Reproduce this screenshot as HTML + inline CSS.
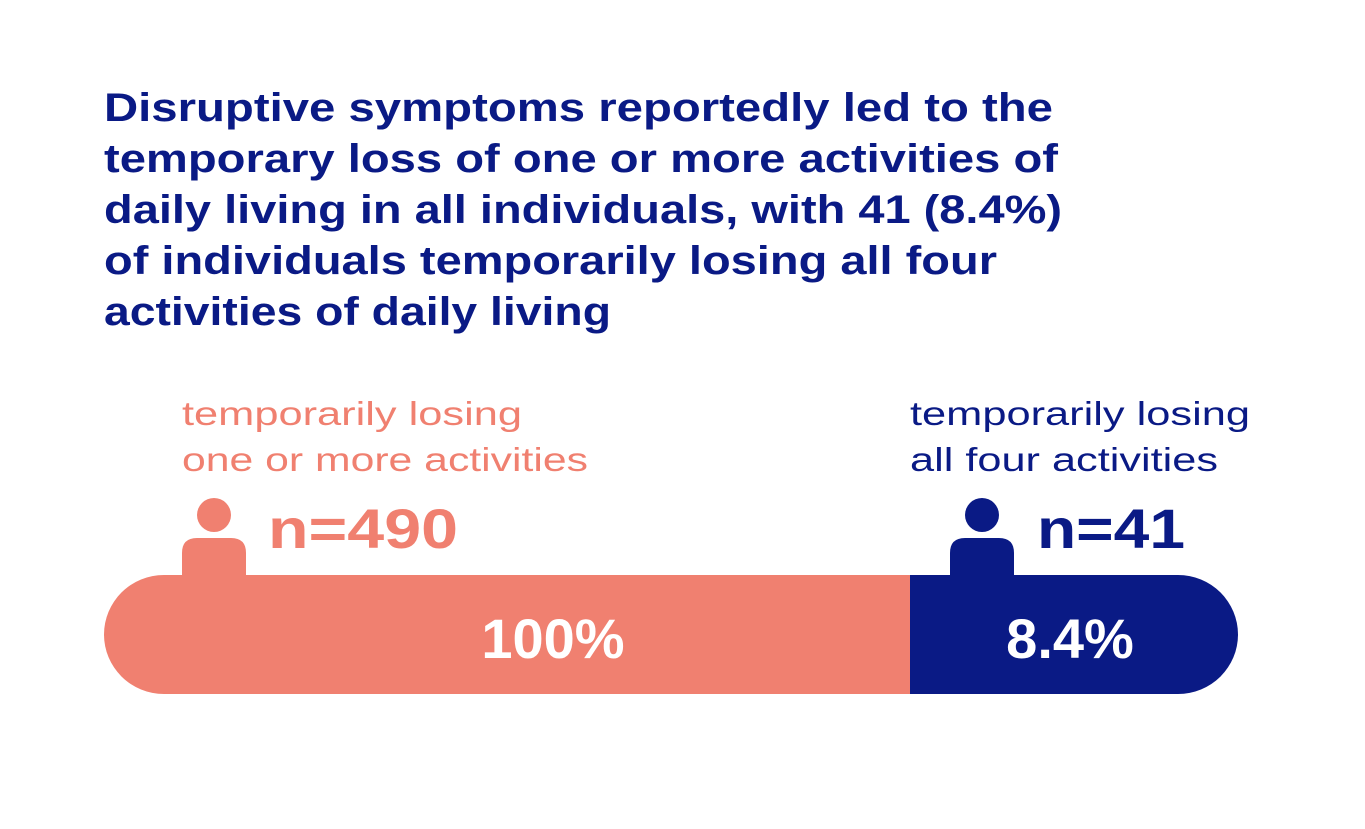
<!DOCTYPE html>
<html><head><meta charset="utf-8"><style>
html,body{margin:0;padding:0;background:#fff;width:1365px;height:829px;overflow:hidden}
svg{display:block;font-family:"Liberation Sans",sans-serif}
</style></head><body>
<svg id="chart" width="1365" height="829" viewBox="0 0 1365 829">
<g fill="#0a1a85" font-weight="bold" font-size="40">
<text x="104" y="121" textLength="949" lengthAdjust="spacingAndGlyphs">Disruptive symptoms reportedly led to the</text>
<text x="104" y="172" textLength="954" lengthAdjust="spacingAndGlyphs">temporary loss of one or more activities of</text>
<text x="104" y="223" textLength="958" lengthAdjust="spacingAndGlyphs">daily living in all individuals, with 41 (8.4%)</text>
<text x="104" y="274" textLength="893" lengthAdjust="spacingAndGlyphs">of individuals temporarily losing all four</text>
<text x="104" y="325" textLength="507" lengthAdjust="spacingAndGlyphs">activities of daily living</text>
</g>
<g id="bars"></g>
</svg>
<script>
const categories = ["temporarily losing|one or more activities", "temporarily losing|all four activities"];
const counts = [490, 41];
const percents = ["100%", "8.4%"];
const colors = ["#f08070", "#0a1a85"];
const NS = "http://www.w3.org/2000/svg";
const g = document.getElementById("bars");
function mk(tag, attrs, parent){const e=document.createElementNS(NS,tag);for(const k in attrs)e.setAttribute(k,attrs[k]);(parent||g).appendChild(e);return e;}
// layout
const segX = [104, 910], segEnd = [910, 1238], y0 = 575, y1 = 694, r = 60;
// salmon segment (rounded left)
const s0 = mk("path",{d:`M${segX[0]+r},${y0} H${segEnd[0]} V${y1} H${segX[0]+r} A${r},${(y1-y0)/2} 0 0 1 ${segX[0]+r},${y0} Z`,fill:colors[0]});


const s1 = mk("path",{d:`M${segX[1]},${y0} H${segEnd[1]-r} A${r},${(y1-y0)/2} 0 0 1 ${segEnd[1]-r},${y1} H${segX[1]} Z`,fill:colors[1]});


const iconX = [214, 982], labelX = [182, 910], nX = [268, 1037], pctX = [553, 1070];
const l1w = [[340,406],[340,308]], nW = [190,148];
for (let i=0;i<2;i++){
  const head = mk("circle",{cx:iconX[i],cy:515,r:17,fill:colors[i]});
  
  
  const body = mk("path",{d:`M${iconX[i]-32},${y0+1} V${553} Q${iconX[i]-32},538 ${iconX[i]-17},538 H${iconX[i]+17} Q${iconX[i]+32},538 ${iconX[i]+32},553 V${y0+1} Z`,fill:colors[i]});
  
  
  const lines = categories[i].split("|");
  lines.forEach((ln,j)=>{
    const t = mk("text",{x:labelX[i],y:425+j*46,fill:colors[i],"font-size":33,textLength:l1w[i][j],lengthAdjust:"spacingAndGlyphs"});
    t.textContent = ln;
    
    
  });
  const n = mk("text",{x:nX[i],y:548,fill:colors[i],"font-size":56,"font-weight":"bold",textLength:nW[i],lengthAdjust:"spacingAndGlyphs"});
  n.textContent = "n=" + counts[i];
  
  
  const p = mk("text",{x:pctX[i],y:658,fill:"#fff","font-size":56,"font-weight":"bold","text-anchor":"middle"});
  p.textContent = percents[i];
  
  
}
</script>
</body></html>
